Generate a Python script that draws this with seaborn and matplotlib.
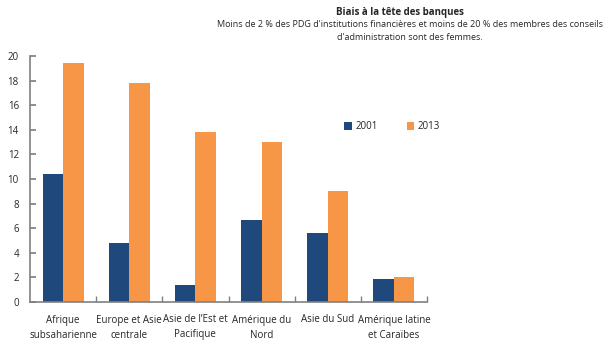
import matplotlib
matplotlib.use("Agg")
import matplotlib.pyplot as plt
import pandas as pd
import seaborn as sns

regions = [
    "Afrique\nsubsaharienne",
    "Europe et Asie\ncentrale",
    "Asie de l\u2019Est et\nPacifique",
    "Amérique du\nNord",
    "Asie du Sud",
    "Amérique latine\net Caraïbes",
]
values_2001 = [10.4, 4.8, 1.4, 6.7, 5.6, 1.9]
values_2013 = [19.4, 17.8, 13.8, 13.0, 9.0, 2.0]
years = ["2001", "2013"]
colors = ["#1F497D", "#F79646"]

df = pd.DataFrame({
    "region": regions * 2,
    "year": [years[0]] * len(regions) + [years[1]] * len(regions),
    "value": values_2001 + values_2013,
})

sns.set_theme(style="white")
plt.rcParams["font.family"] = ["Open Sans", "DejaVu Sans"]

fig = plt.figure(figsize=(6.07, 3.58), dpi=100)
ax = fig.add_axes([30 / 607, 56 / 358, 397 / 607, 246 / 358])

sns.barplot(
    data=df, x="region", y="value", hue="year",
    palette=colors, width=0.62, saturation=1, linewidth=0,
    ax=ax, legend=True,
)

ax.set_ylim(0, 20)
ax.set_yticks(range(0, 21, 2))
ax.set_xlim(-0.5, len(regions) - 0.5)
ax.set_xlabel("")
ax.set_ylabel("")
for s in ["top", "right"]:
    ax.spines[s].set_visible(False)
for s in ["left", "bottom"]:
    ax.spines[s].set_color("#808080")
    ax.spines[s].set_linewidth(1.2)

ax.tick_params(axis="y", direction="in", length=4, color="#808080", left=True,
               labelsize=7, pad=8)
ax.tick_params(axis="x", length=0, labelsize=7, pad=9)
for lbl in ax.get_xticklabels():
    lbl.set_linespacing(1.5)
# category boundary ticks
ax.set_xticks([i + 0.5 for i in range(len(regions))], minor=True)
ax.tick_params(axis="x", which="minor", direction="in", length=4,
               color="#808080", bottom=True)

leg = ax.legend(loc="upper left", bbox_to_anchor=(0.77, 0.77), ncol=2,
                frameon=False, fontsize=7, handlelength=0.8, handleheight=0.8,
                columnspacing=3.0, handletextpad=0.3)

fig.text(400 / 607, 1 - 12 / 358, "Biais à la tête des banques", ha="center",
         va="center", fontsize=7, fontweight="bold")
fig.text(410 / 607, 1 - 31 / 358,
         "Moins de 2 % des PDG d'institutions financières et moins de 20 % des membres des conseils\n"
         "d'administration sont des femmes.",
         ha="center", va="center", fontsize=6.5, linespacing=1.6)

fig.savefig("out.png", dpi=100)
